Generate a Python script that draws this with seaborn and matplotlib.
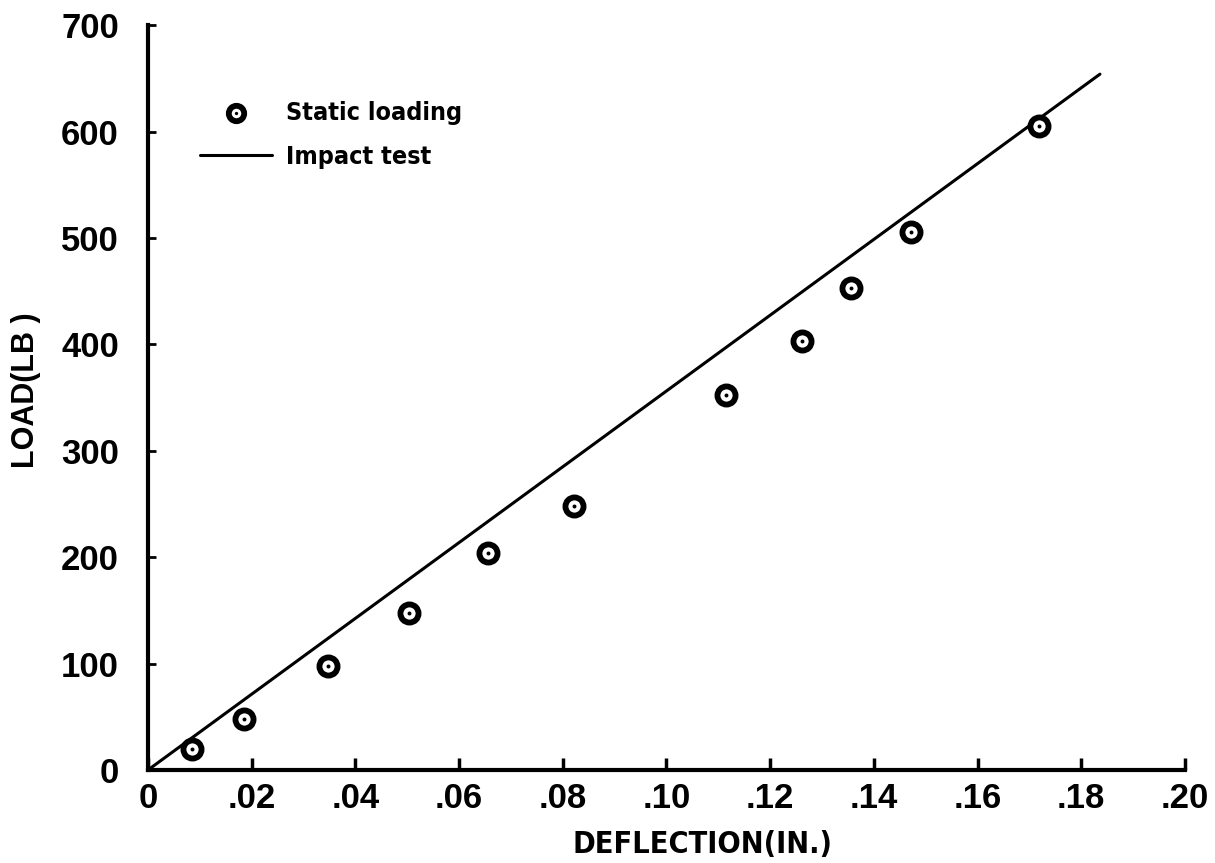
import matplotlib
matplotlib.use("Agg")
import matplotlib.pyplot as plt
import seaborn as sns
import pandas as pd
from matplotlib.legend_handler import HandlerTuple

# ---- data ----
static_deflection = [0.0084, 0.0186, 0.0347, 0.0504, 0.0656, 0.0822,
                     0.1115, 0.1261, 0.1355, 0.1471, 0.1718]
static_load = [20, 48, 98, 148, 204, 248, 352, 403, 453, 506, 605]
impact_deflection = [0.0, 0.1836]
impact_load = [0, 654]
x_ticks = [0.0, 0.02, 0.04, 0.06, 0.08, 0.10, 0.12, 0.14, 0.16, 0.18, 0.20]
x_tick_labels = ["0", ".02", ".04", ".06", ".08", ".10", ".12", ".14", ".16", ".18", ".20"]
y_ticks = [0, 100, 200, 300, 400, 500, 600, 700]
y_tick_labels = ["0", "100", "200", "300", "400", "500", "600", "700"]

sns.set_theme(style="ticks")
plt.rcParams["font.family"] = ["Liberation Sans", "DejaVu Sans"]
plt.rcParams["text.color"] = "black"
plt.rcParams["axes.labelcolor"] = "black"
plt.rcParams["xtick.color"] = "black"
plt.rcParams["ytick.color"] = "black"

static_df = pd.DataFrame({"x": static_deflection, "y": static_load})
impact_df = pd.DataFrame({"x": impact_deflection, "y": impact_load})

fig = plt.figure(figsize=(12.15, 8.63), dpi=100)
ax = fig.add_axes([0.1218, 0.1078, 0.8535, 0.863])

sns.lineplot(data=impact_df, x="x", y="y", ax=ax, color="black",
             linewidth=2.2, sort=False)
line_artist = ax.lines[-1]
sns.scatterplot(data=static_df, x="x", y="y", ax=ax, marker="o", s=170,
                facecolor="white", edgecolor="black", linewidth=4.2, zorder=3)
ring = ax.collections[-1]
sns.scatterplot(data=static_df, x="x", y="y", ax=ax, marker="o", s=8,
                color="black", edgecolor="black", linewidth=0, zorder=4)
dot = ax.collections[-1]

ax.set_xlim(0, 0.20)
ax.set_ylim(0, 700)
ax.set_xticks(x_ticks)
ax.set_xticklabels(x_tick_labels)
ax.set_yticks(y_ticks)
ax.set_yticklabels(y_tick_labels)

for s in ["top", "right"]:
    ax.spines[s].set_visible(False)
for s in ["left", "bottom"]:
    ax.spines[s].set_linewidth(3)
    ax.spines[s].set_color("black")

ax.tick_params(axis="x", direction="in", length=9, width=2.5, pad=9,
               labelsize=25, colors="black")
ax.tick_params(axis="y", direction="in", length=6, width=2, pad=21,
               labelsize=25, colors="black")
for lab in ax.get_xticklabels() + ax.get_yticklabels():
    lab.set_fontweight("bold")

ax.set_xlabel("DEFLECTION(IN.)", fontsize=22, fontweight="bold",
              fontstretch="condensed", family="DejaVu Sans")
ax.xaxis.set_label_coords(0.535, -0.08)
ax.set_ylabel("LOAD(LB )", fontsize=22, fontweight="bold")
ax.yaxis.set_label_coords(-0.103, 0.51)

ax.legend([(ring, dot), line_artist], ["Static loading", "Impact test"],
          handler_map={tuple: HandlerTuple(ndivide=1, pad=0)},
          loc="upper left", bbox_to_anchor=(0.028, 0.929),
          frameon=False, handlelength=2.9, handletextpad=0.55,
          labelspacing=0.8, markerscale=0.85,
          prop={"family": "DejaVu Sans", "stretch": "condensed",
                "weight": "bold", "size": 18})

fig.savefig("out.png", dpi=100, facecolor="white")
